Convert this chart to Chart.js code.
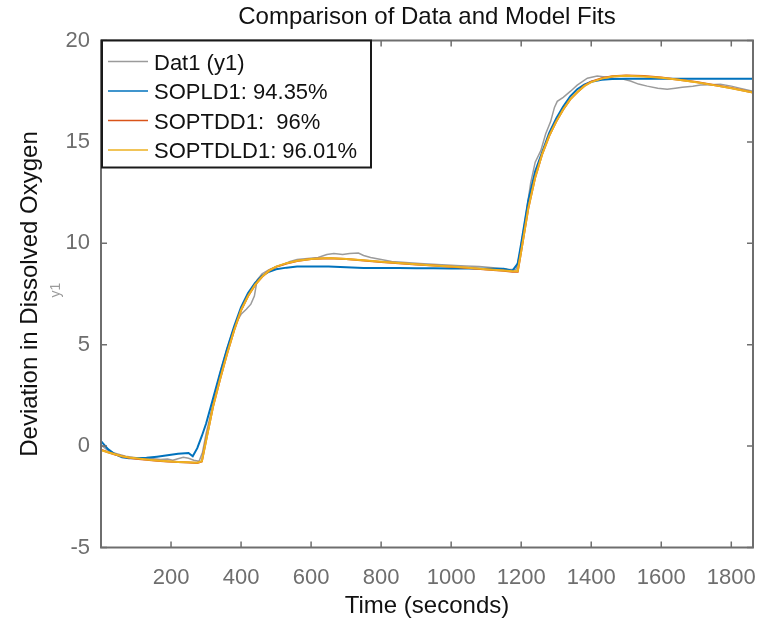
<!DOCTYPE html>
<html>
<head>
<meta charset="utf-8">
<script src="https://cdn.jsdelivr.net/npm/chart.js@4/dist/chart.umd.min.js"></script>
<style>
html,body{margin:0;padding:0;background:#ffffff;}
canvas{display:block;}
</style>
</head>
<body>
<canvas id="c" width="760" height="623"></canvas>
<script>
// ---------- data ----------
const chartTitle = "Comparison of Data and Model Fits";
const xAxisTitle = "Time (seconds)";
const yAxisTitle = "Deviation in Dissolved Oxygen";
const yAxisSubTitle = "y1";
const xTicks = [200, 400, 600, 800, 1000, 1200, 1400, 1600, 1800];
const yTicks = [-5, 0, 5, 10, 15, 20];
const seriesNames = ["Dat1 (y1)", "SOPLD1: 94.35%", "SOPTDD1:  96%", "SOPTDLD1: 96.01%"];

const dataTime = [0, 15, 30, 50, 70, 90, 110, 130, 150, 170, 190, 205, 220, 235, 250, 265, 280, 290, 300, 315,
  330, 345, 360, 375, 390, 400, 415, 428, 438, 446, 460, 480, 500, 520, 540, 560, 590, 620, 645, 665,
  690, 710, 735, 750, 770, 800, 830, 870, 910, 960, 1000, 1040, 1080, 1120, 1160, 1185, 1195, 1210, 1227, 1240,
  1256, 1270, 1284, 1295, 1303, 1320, 1341, 1360, 1389, 1417, 1440, 1464, 1490, 1512, 1535, 1560, 1590, 1617, 1640, 1660,
  1690, 1712, 1740, 1769, 1800, 1827, 1862];
const dataValues = [0.05, -0.15, -0.3, -0.4, -0.5, -0.55, -0.6, -0.58, -0.62, -0.66, -0.64, -0.7, -0.62, -0.55, -0.6, -0.7, -0.75, -0.3, 0.6, 1.7,
  2.9, 3.9, 4.8, 5.6, 6.2, 6.5, 6.75, 7.0, 7.4, 8.2, 8.5, 8.7, 8.85, 8.95, 9.1, 9.2, 9.25, 9.3, 9.45, 9.5,
  9.45, 9.5, 9.52, 9.4, 9.3, 9.2, 9.1, 9.05, 9.0, 8.95, 8.92, 8.88, 8.85, 8.8, 8.72, 8.7, 9.4, 11.0, 12.97, 14.0,
  14.57, 15.4, 16.0, 16.7, 17.0, 17.2, 17.5, 17.8, 18.14, 18.25, 18.2, 18.14, 18.1, 18.0, 17.85, 17.75, 17.65, 17.6, 17.65, 17.7,
  17.75, 17.8, 17.82, 17.84, 17.75, 17.64, 17.5];

const modelTime = [0, 20, 40, 60, 80, 100, 130, 160, 190, 220, 250, 262, 275, 288, 300, 320, 340, 360, 380, 400,
  420, 440, 460, 480, 500, 530, 560, 600, 650, 700, 750, 800, 850, 900, 950, 1000, 1050, 1100, 1150, 1175,
  1190, 1200, 1220, 1240, 1260, 1280, 1300, 1320, 1340, 1360, 1380, 1400, 1430, 1460, 1500, 1550, 1600, 1650, 1700, 1750,
  1800, 1862];
const sopldValues = [0.25, -0.15, -0.4, -0.55, -0.6, -0.6, -0.58, -0.52, -0.45, -0.38, -0.34, -0.5, -0.1, 0.5, 1.1, 2.35, 3.6, 4.8, 5.9, 6.85,
  7.55, 8.05, 8.4, 8.6, 8.72, 8.8, 8.85, 8.86, 8.86, 8.82, 8.78, 8.78, 8.78, 8.77, 8.77, 8.76, 8.76, 8.75, 8.74, 8.65,
  9.0, 10.0, 12.1, 13.55, 14.5, 15.45, 16.15, 16.75, 17.25, 17.6, 17.82, 17.97, 18.06, 18.1, 18.12, 18.12, 18.12, 18.12, 18.12, 18.12,
  18.12, 18.12];
const soptddValues = [-0.18, -0.3, -0.41, -0.5, -0.57, -0.62, -0.67, -0.72, -0.76, -0.79, -0.81, -0.82, -0.83, -0.76, 0.28, 1.95, 3.3, 4.55, 5.7, 6.7,
  7.4, 7.95, 8.35, 8.65, 8.84, 9.0, 9.13, 9.22, 9.26, 9.22, 9.15, 9.08, 9.02, 8.96, 8.9, 8.84, 8.78, 8.71, 8.65, 8.6,
  8.6, 9.6, 11.7, 13.25, 14.4, 15.3, 16.0, 16.6, 17.1, 17.45, 17.76, 17.97, 18.14, 18.24, 18.28, 18.25, 18.17, 18.07, 17.95, 17.81,
  17.66, 17.44];
const soptdldValues = [-0.2, -0.3, -0.4, -0.5, -0.56, -0.6, -0.66, -0.71, -0.75, -0.78, -0.8, -0.81, -0.82, -0.75, 0.25, 1.95, 3.3, 4.55, 5.7, 6.7,
  7.4, 7.95, 8.35, 8.65, 8.85, 9.02, 9.14, 9.23, 9.27, 9.23, 9.16, 9.09, 9.03, 8.97, 8.91, 8.85, 8.79, 8.72, 8.66, 8.62,
  8.62, 9.6, 11.7, 13.25, 14.4, 15.3, 16.0, 16.6, 17.1, 17.45, 17.75, 17.95, 18.12, 18.22, 18.26, 18.23, 18.16, 18.06, 17.94, 17.8,
  17.65, 17.43];

// ---------- styles ----------
const seriesColors = ["#9b9b9b", "#0072BD", "#D95319", "#EDB120"];
const axisColor = "#6e6e6e";
const FONT = "'Liberation Sans', Arial, Helvetica, sans-serif";

const toPoints = (ts, vs) => ts.map((t, i) => ({x: t, y: vs[i]}));

const frameAndLegend = {
  id: 'frameAndLegend',
  afterDatasetsDraw(chart) {
    const {ctx, chartArea: a, scales: {x, y}} = chart;
    ctx.save();
    // inward ticks on all four sides
    ctx.strokeStyle = axisColor;
    ctx.lineWidth = 1.5;
    ctx.beginPath();
    xTicks.forEach(v => {
      const px = x.getPixelForValue(v);
      ctx.moveTo(px, a.bottom); ctx.lineTo(px, a.bottom - 6);
      ctx.moveTo(px, a.top); ctx.lineTo(px, a.top + 6);
    });
    yTicks.forEach(v => {
      const py = y.getPixelForValue(v);
      ctx.moveTo(a.left, py); ctx.lineTo(a.left + 6, py);
      ctx.moveTo(a.right, py); ctx.lineTo(a.right - 6, py);
    });
    ctx.stroke();
    // axes box
    ctx.lineWidth = 2;
    ctx.strokeRect(a.left, a.top, a.right - a.left, a.bottom - a.top);

    // legend
    const lx = a.left + 1, ly = a.top, lw = 269, lh = 127;
    ctx.fillStyle = "#ffffff";
    ctx.fillRect(lx, ly, lw, lh);
    ctx.strokeStyle = "#1a1a1a";
    ctx.lineWidth = 2;
    ctx.strokeRect(lx, ly, lw, lh);
    ctx.font = "22px " + FONT;
    ctx.textBaseline = "middle";
    ctx.textAlign = "left";
    seriesNames.forEach((name, i) => {
      const ry = ly + 21 + i * 29.5;
      ctx.strokeStyle = seriesColors[i];
      ctx.lineWidth = 1.6;
      ctx.beginPath();
      ctx.moveTo(lx + 6, ry);
      ctx.lineTo(lx + 46, ry);
      ctx.stroke();
      ctx.fillStyle = "#111111";
      ctx.fillText(name, lx + 52, ry + 2);
    });

    // secondary y label
    ctx.save();
    ctx.translate(56, (a.top + a.bottom) / 2 - 4);
    ctx.rotate(-Math.PI / 2);
    ctx.font = "14px " + FONT;
    ctx.fillStyle = "#9a9a9a";
    ctx.textAlign = "center";
    ctx.textBaseline = "middle";
    ctx.fillText(yAxisSubTitle, 0, 0);
    ctx.restore();

    ctx.restore();
  }
};

new Chart(document.getElementById('c'), {
  type: 'line',
  data: {
    datasets: [
      {label: seriesNames[0], data: toPoints(dataTime, dataValues), borderColor: seriesColors[0], borderWidth: 1.5, order: 4},
      {label: seriesNames[1], data: toPoints(modelTime, sopldValues), borderColor: seriesColors[1], borderWidth: 2, order: 3},
      {label: seriesNames[2], data: toPoints(modelTime, soptddValues), borderColor: seriesColors[2], borderWidth: 2, order: 2},
      {label: seriesNames[3], data: toPoints(modelTime, soptdldValues), borderColor: seriesColors[3], borderWidth: 2, order: 1}
    ]
  },
  options: {
    responsive: false,
    animation: false,
    devicePixelRatio: 1,
    elements: {point: {radius: 0}, line: {tension: 0, fill: false}},
    layout: {padding: {left: 0, right: 7, top: 0, bottom: 0}},
    plugins: {
      legend: {display: false},
      tooltip: {enabled: false},
      title: {
        display: true,
        fullSize: false,
        text: chartTitle,
        color: "#111111",
        font: {family: FONT, size: 24, weight: 'normal', lineHeight: 1.2},
        padding: {top: 3, bottom: 8.7}
      }
    },
    scales: {
      x: {
        type: 'linear',
        min: 0,
        max: 1862,
        afterBuildTicks: axis => { axis.ticks = xTicks.map(v => ({value: v})); },
        afterFit: axis => { axis.height = 75.5; axis.paddingLeft = 0; axis.paddingRight = 0; },
        grid: {display: false, drawTicks: false},
        border: {display: false},
        ticks: {color: axisColor, font: {family: FONT, size: 22}, padding: 17, autoSkip: false, maxRotation: 0,
          callback: v => String(v)},
        title: {display: true, text: xAxisTitle, color: "#111111", font: {family: FONT, size: 24}, padding: {top: 0, bottom: 2}}
      },
      y: {
        type: 'linear',
        min: -5,
        max: 20,
        afterBuildTicks: axis => { axis.ticks = yTicks.map(v => ({value: v})); },
        afterFit: axis => { axis.width = 101; axis.paddingTop = 0; axis.paddingBottom = 0; },
        grid: {display: false, drawTicks: false},
        border: {display: false},
        ticks: {color: axisColor, font: {family: FONT, size: 22}, padding: 11, callback: v => String(v)},
        title: {display: true, text: yAxisTitle, color: "#111111", font: {family: FONT, size: 24}, padding: {top: 16, bottom: 0}}
      }
    }
  },
  plugins: [frameAndLegend]
});
</script>
</body>
</html>
